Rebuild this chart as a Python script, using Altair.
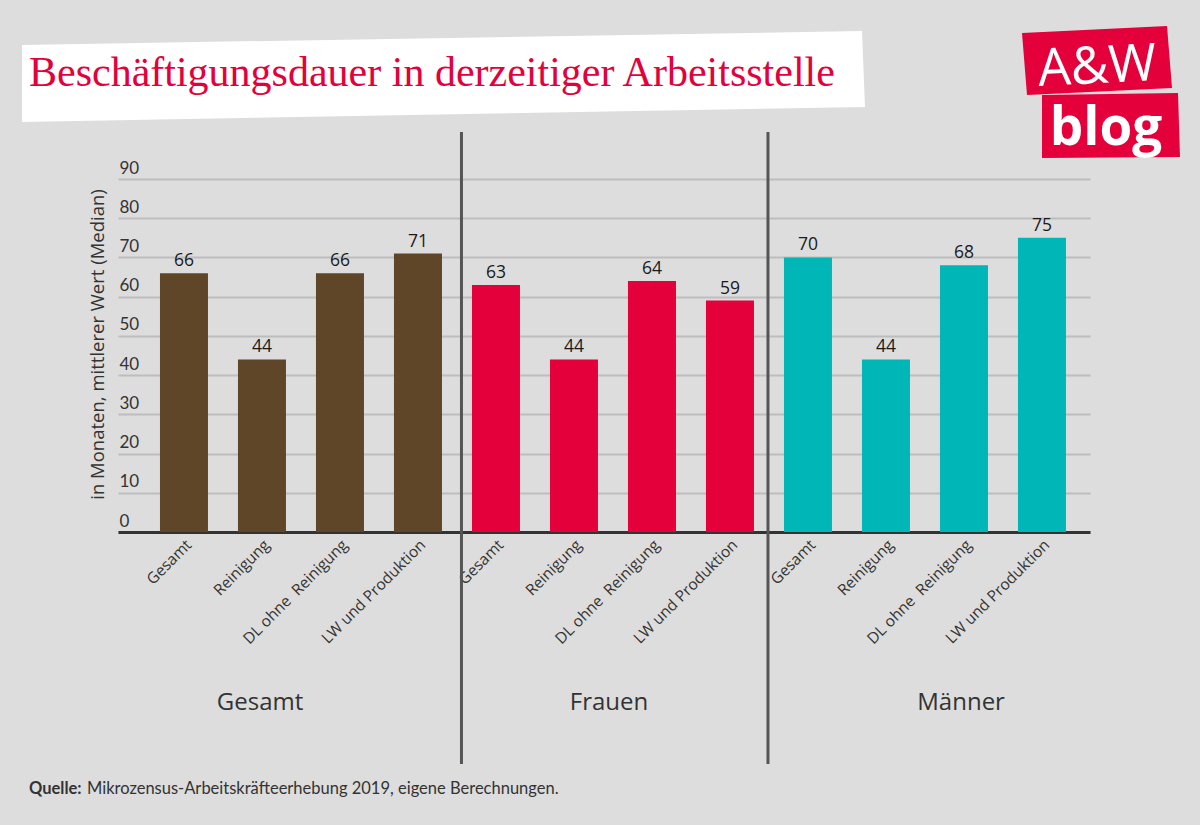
import altair as alt
import pandas as pd

# ---- data ----
groups = ["Gesamt", "Frauen", "Männer"]
categories = ["Gesamt", "Reinigung", "DL ohne  Reinigung", "LW und Produktion"]
values_gesamt = [66, 44, 66, 71]
values_frauen = [63, 44, 64, 59]
values_maenner = [70, 44, 68, 75]
group_colors = ["#5f4629", "#e4003a", "#00b6b6"]
y_ticks = [0, 10, 20, 30, 40, 50, 60, 70, 80, 90]

title_text = "Beschäftigungsdauer in derzeitiger Arbeitsstelle"
y_title = "in Monaten, mittlerer Wert (Median)"
source_bold = "Quelle:"
source_text = "Mikrozensus-Arbeitskräfteerhebung 2019, eigene Berechnungen."
logo_top = "A&W"
logo_bottom = "blog"

rows = []
for g, vals in zip(groups, [values_gesamt, values_frauen, values_maenner]):
    for c, v in zip(categories, vals):
        rows.append({"key": f"{g}|{c}", "group": g, "category": c, "value": v})
df = pd.DataFrame(rows)
keys = list(df["key"])

# ---- layout ----
PL, PT = 118, 179
W, H = 972, 353
BG = "#dddddd"
RED = "#e3003b"
SANS = "Open Sans"
SANS2 = "Lato"
one = pd.DataFrame({"k": [0]})

xscale = alt.Scale(domain=keys, paddingInner=30 / 78, paddingOuter=0.423, align=0.636)
x_axis = alt.Axis(
    title=None, labelAngle=-45, labelFontSize=15.5, labelFont=SANS, labelColor="#333333",
    domainColor="#333333", domainWidth=3, ticks=False, labelPadding=5, grid=False,
    labelOverlap=False,
    labelExpr="replace(split(datum.label, '|')[1], '  ', ' \u00a0')",
)
y_axis = alt.Axis(
    values=y_ticks, title=y_title, titleFont=SANS, titleFontSize=18.5, titleFontWeight="normal",
    titleColor="#333333", titleAngle=270, titleX=-21, titleY=165, titleAlign="center",
    titleBaseline="middle", labelAlign="left", labelBaseline="bottom", labelPadding=-1,
    labelOffset=-2, tickSize=0, ticks=False, domain=False, grid=True, gridColor="#bdbdbd",
    gridWidth=2, labelFont=SANS2, labelFontSize=17, labelColor="#333333",
)

def X(bp=None):
    if bp is None:
        return alt.X("key:N", scale=xscale, sort=None, axis=x_axis)
    return alt.X("key:N", scale=xscale, sort=None, axis=x_axis, bandPosition=bp)

Y = alt.Y("value:Q", scale=alt.Scale(domain=[0, 90], nice=False), axis=y_axis)

def poly(points, color):
    xs = [p[0] for p in points]
    ys = [p[1] for p in points]
    cx = (min(xs) + max(xs)) / 2
    cy = (min(ys) + max(ys)) / 2
    r = max(max(abs(x - cx) for x in xs), max(abs(y - cy) for y in ys))
    path = "M" + "L".join(f"{(x - cx) / r:.4f},{(y - cy) / r:.4f}" for x, y in points) + "Z"
    return alt.Chart(one).mark_point(
        shape=path, size=(2 * r) ** 2, filled=True, opacity=1, color=color, strokeWidth=0
    ).encode(x=alt.value(cx - PL), y=alt.value(cy - PT))

def label(text, x, y, **kw):
    return alt.Chart(one).mark_text(text=text, **kw).encode(x=alt.value(x - PL), y=alt.value(y - PT))

bars = alt.Chart(df).mark_bar().encode(
    x=X(), y=Y,
    color=alt.Color("group:N", scale=alt.Scale(domain=groups, range=group_colors), legend=None),
)
vals = alt.Chart(df).mark_text(
    dy=-7, baseline="alphabetic", fontSize=17.5, font=SANS, color="#1a1a1a"
).encode(x=X(), y=Y, text="value:Q")

layers = [bars, vals]

# separators between groups (offset from the right edge of the last bar of a group)
for k, off in [(keys[3], 19.5), (keys[7], 14)]:
    layers.append(
        alt.Chart(pd.DataFrame({"key": [k]})).mark_rule(
            color="#555555", strokeWidth=3, xOffset=off
        ).encode(x=X(1), y=alt.value(-47), y2=alt.value(585))
    )

# group labels
for g, k, bp, dx in [(groups[0], keys[1], 0.46, 0), (groups[1], keys[5], 1, 11), (groups[2], keys[10], 0.44, 0)]:
    layers.append(
        alt.Chart(pd.DataFrame({"key": [k], "g": [g]})).mark_text(
            fontSize=24, font=SANS, color="#333333", baseline="middle", dx=dx
        ).encode(x=X(bp), y=alt.value(524), text="g:N")
    )

# title box and title
layers.append(poly([(22, 45), (862, 31), (865, 107), (22, 122)], "#ffffff"))
layers.append(label(title_text, 29, 86, font="Liberation Serif", fontSize=42, color=RED,
                    align="left", baseline="alphabetic"))

# logo
layers.append(poly([(1022, 33), (1167, 26), (1172, 88), (1027, 95)], RED))
layers.append(poly([(1042, 95), (1178, 93), (1180, 157), (1042, 158)], RED))
layers.append(label(logo_top, 1098, 83, font="Open Sans", fontSize=52, color="#ffffff",
                    align="center", baseline="alphabetic", angle=357))
layers.append(label(logo_bottom, 1106, 145, font="Open Sans", fontSize=53, fontWeight="bold",
                    color="#ffffff", align="center", baseline="alphabetic"))

# footer
layers.append(label(source_bold, 29, 789, font=SANS2, fontSize=16.5, fontWeight="bold",
                    color="#333333", align="left", baseline="middle"))
layers.append(label(source_text, 87, 789, font=SANS2, fontSize=16.5, color="#333333",
                    align="left", baseline="middle"))

chart = alt.layer(*layers).properties(
    width=W, height=H, background=BG,
    padding={"left": PL, "top": PT, "right": 1200 - PL - W, "bottom": 825 - PT - H},
    autosize=alt.AutoSizeParams(type="none"),
).configure_view(stroke=None)

chart.save("out.html", embed_options={"renderer": "svg", "actions": False})
